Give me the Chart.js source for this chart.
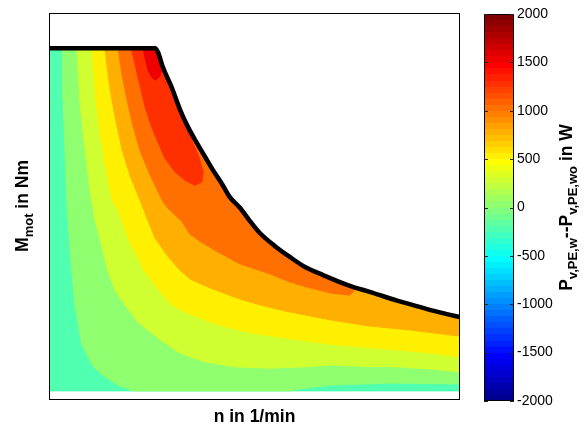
<!DOCTYPE html>
<html>
<head>
<meta charset="utf-8">
<title>Loss difference map</title>
<script src="https://cdn.jsdelivr.net/npm/chart.js@4.4.0/dist/chart.umd.min.js"></script>
<style>
    html, body { margin: 0; padding: 0; background: #fff; }
    #wrap { position: relative; width: 587px; height: 429px; }
    #map-chart { position: absolute; left: 0; top: 0; }
    #cbar-chart { position: absolute; left: 470px; top: 0; }
</style>
</head>
<body>
<div id="wrap">
    <canvas id="map-chart" width="587" height="429"></canvas>
    <canvas id="cbar-chart" width="117" height="429"></canvas>
</div>
<script>
// Operating range: n and M in % of the axis range (axes carry no tick labels)
const limitN = [0, 25.8, 26.5, 27.7, 29.9, 31.9, 33.8, 36.0, 38.0, 39.9, 42.1, 44.0, 46.5, 48.9, 51.3, 55.0, 58.6, 62.3, 66.7, 72.7, 78.8, 84.9, 91.0, 95.6, 100];
const limitM = [90.9, 90.9, 89.9, 86.0, 80.6, 74.9, 70.5, 66.3, 62.7, 59.3, 55.7, 52.3, 49.5, 46.1, 43.0, 39.6, 36.8, 34.2, 32.1, 29.5, 27.5, 25.4, 23.6, 22.3, 21.2];
const mMin = 2.1;

// Contour levels in W (lowest band covers the whole map)
const levels = [-250, 0, 250, 500, 750, 1000, 1250, 1500];

const baseN = [0, 100];
const baseM = [mMin, mMin];
const iso0N = [3.2, 3.4, 3.9, 4.4, 5.1, 6.3, 8.0, 10.5, 12.9, 16.8, 20.4, 58.6, 61.1, 68.4, 83.0, 100];
const iso0M = [90.9, 77.5, 64.5, 50.3, 38.6, 24.4, 14.0, 8.8, 6.2, 3.6, 2.1, 2.1, 2.6, 3.6, 4.1, 3.9];
const iso250N = [6.8, 7.5, 8.5, 10.0, 11.2, 12.4, 14.4, 16.3, 18.5, 21.7, 26.5, 31.4, 34.3, 38.0, 45.3, 53.3, 61.6, 68.4, 75.7, 85.4, 92.7, 100];
const iso250M = [90.9, 77.5, 67.1, 54.1, 46.4, 41.7, 32.9, 27.7, 24.4, 19.9, 15.8, 12.2, 10.9, 9.6, 8.3, 8.0, 8.3, 8.8, 8.5, 8.3, 7.8, 7.0];
const iso500N = [10.5, 11.4, 12.4, 13.9, 15.3, 16.8, 19.2, 23.4, 26.3, 29.9, 33.1, 36.7, 41.1, 49.4, 57.4, 68.4, 75.7, 85.4, 92.7, 100];
const iso500M = [90.9, 77.5, 68.9, 59.3, 51.6, 49.0, 41.7, 32.9, 28.8, 24.4, 22.5, 21.0, 19.2, 17.1, 15.8, 14.2, 13.5, 12.7, 11.9, 10.9];
const iso750N = [13.6, 14.4, 15.3, 16.5, 17.8, 19.7, 22.6, 25.8, 28.7, 31.4, 34.3, 38.0, 41.1, 46.5, 51.3, 57.4, 68.4, 78.1, 87.8, 100];
const iso750M = [90.9, 83.9, 77.5, 71.0, 64.5, 58.0, 50.3, 41.7, 37.3, 33.9, 31.1, 29.3, 28.0, 25.9, 24.4, 22.8, 20.5, 18.9, 17.9, 16.3];
const iso1000N = [16.8, 17.8, 19.0, 20.4, 22.1, 24.6, 27.5, 28.7, 32.4, 34.3, 36.7, 41.1, 46.5, 53.8, 58.6, 63.5, 68.4, 73.2, 74.7];
const iso1000M = [90.9, 83.9, 77.5, 71.0, 64.5, 58.0, 51.6, 49.7, 45.9, 42.7, 40.9, 38.1, 35.0, 32.4, 30.3, 28.8, 27.5, 26.9, 28.5];
const iso1250N = [20.0, 20.7, 21.4, 22.4, 23.4, 24.8, 26.3, 28.2, 30.7, 33.3, 35.5, 37.2, 37.5, 36.4, 35.0, 33.9];
const iso1250M = [90.9, 87.8, 84.5, 80.1, 75.6, 71.0, 67.1, 62.4, 58.8, 56.5, 55.4, 56.2, 58.8, 63.0, 66.3, 69.8];
const iso1500N = [22.9, 23.4, 24.1, 25.1, 26.0, 27.0, 27.5];
const iso1500M = [90.9, 88.3, 85.2, 83.2, 82.6, 83.7, 85.8];

// Colour bar
const cbarMin = -2000;
const cbarMax = 2000;
const cbarTicks = [-2000, -1500, -1000, -500, 0, 500, 1000, 1500, 2000];

const FONT = '"Liberation Sans", Arial, Helvetica, sans-serif';
const TITLE_SIZE = 17.5;
const SUB_SIZE = 13;
Chart.defaults.font.family = FONT;
Chart.defaults.color = '#000';

// MATLAB jet(64), row k = 1..64
function jetRow(k) {
    let r = 0, g = 0, b = 0;
    if (k >= 25 && k <= 40) r = (k - 24) / 16;
    else if (k > 40 && k <= 55) r = 1;
    else if (k > 55) r = (72 - k) / 16;
    if (k >= 9 && k <= 24) g = (k - 8) / 16;
    else if (k > 24 && k <= 39) g = 1;
    else if (k > 39 && k <= 55) g = (56 - k) / 16;
    if (k <= 8) b = (k + 8) / 16;
    else if (k <= 24) b = 1;
    else if (k <= 39) b = (40 - k) / 16;
    return `rgb(${Math.round(r * 255)}, ${Math.round(g * 255)}, ${Math.round(b * 255)})`;
}

function levelColor(v) {
    const k = Math.min(64, Math.floor((v - cbarMin) / (cbarMax - cbarMin) * 64) + 1);
    return jetRow(k);
}

// Closed region above an iso line: the line itself, then back along the torque limit
function regionPoints(isoN, isoM) {
    const pts = isoN.map((n, i) => ({ x: n, y: isoM[i] }));
    const first = isoN[0];
    const last = isoN[isoN.length - 1];
    for (let i = limitN.length - 1; i >= 0; i--) {
        if (limitN[i] >= first && limitN[i] <= last) {
            pts.push({ x: limitN[i], y: limitM[i] });
        }
    }
    return pts;
}

const isoLines = [
    [baseN, baseM], [iso0N, iso0M], [iso250N, iso250M], [iso500N, iso500M],
    [iso750N, iso750M], [iso1000N, iso1000M], [iso1250N, iso1250M], [iso1500N, iso1500M]
];

const datasets = levels.map((lvl, i) => ({
    label: `${lvl} W`,
    data: regionPoints(isoLines[i][0], isoLines[i][1]),
    showLine: true,
    fill: 'shape',
    backgroundColor: levelColor(lvl),
    borderColor: levelColor(lvl),
    borderWidth: 1,
    pointRadius: 0,
    tension: 0,
    order: 20 - i
}));

datasets.push({
    label: 'torque limit',
    data: limitN.map((n, i) => ({ x: n, y: limitM[i] })),
    showLine: true,
    fill: false,
    borderColor: '#000',
    borderWidth: 4.5,
    borderJoinStyle: 'round',
    cubicInterpolationMode: 'monotone',
    pointRadius: 0,
    order: 0
});

// Text with subscripts, optionally turned to read bottom-to-top
function drawRichText(ctx, parts, cx, cy, rotate) {
    const mainFont = `bold ${TITLE_SIZE}px ${FONT}`;
    const subFont = `bold ${SUB_SIZE}px ${FONT}`;
    ctx.save();
    ctx.translate(cx, cy);
    if (rotate) ctx.rotate(-Math.PI / 2);
    ctx.fillStyle = '#000';
    ctx.textAlign = 'left';
    ctx.textBaseline = 'alphabetic';
    let total = 0;
    parts.forEach(p => {
        ctx.font = p.sub ? subFont : mainFont;
        p.w = ctx.measureText(p.t).width;
        total += p.w;
    });
    let x = -total / 2;
    parts.forEach(p => {
        ctx.font = p.sub ? subFont : mainFont;
        ctx.fillText(p.t, x, p.sub ? 5 : 0);
        x += p.w;
    });
    ctx.restore();
}

const mapFrame = {
    id: 'mapFrame',
    afterDraw(chart) {
        const { ctx, chartArea: a } = chart;
        ctx.save();
        ctx.strokeStyle = '#000';
        ctx.lineWidth = 1;
        ctx.strokeRect(Math.round(a.left) + 0.5, Math.round(a.top) + 0.5,
            Math.round(a.right - a.left) - 1, Math.round(a.bottom - a.top));
        ctx.restore();
        drawRichText(ctx, [{ t: 'n in 1/min' }], (a.left + a.right) / 2, a.bottom + 23, false);
        drawRichText(ctx, [{ t: 'M' }, { t: 'mot', sub: true }, { t: ' in Nm' }], 28, 206, true);
    }
};

new Chart(document.getElementById('map-chart'), {
    type: 'scatter',
    data: { datasets },
    options: {
        responsive: false,
        animation: false,
        layout: { padding: { left: 49, right: 127, top: 13, bottom: 30 } },
        scales: {
            x: { type: 'linear', min: 0, max: 100, display: false },
            y: { type: 'linear', min: 0, max: 100, display: false }
        },
        plugins: {
            legend: { display: false },
            tooltip: { enabled: false }
        }
    },
    plugins: [mapFrame]
});

// Colour bar: one floating bar from cbarMin to cbarMax painted with jet(64)
let cbarGradient = null;
function cbarFill(context) {
    const chart = context.chart;
    const y = chart.scales.y;
    if (!chart.chartArea || !y) return null;
    if (cbarGradient) return cbarGradient;
    const g = chart.ctx.createLinearGradient(0, y.getPixelForValue(cbarMin), 0, y.getPixelForValue(cbarMax));
    for (let k = 1; k <= 64; k++) {
        g.addColorStop((k - 1) / 64, jetRow(k));
        g.addColorStop(k / 64, jetRow(k));
    }
    cbarGradient = g;
    return g;
}

const cbarFrame = {
    id: 'cbarFrame',
    afterDraw(chart) {
        const { ctx, chartArea: a } = chart;
        const y = chart.scales.y;
        ctx.save();
        ctx.strokeStyle = '#000';
        ctx.lineWidth = 1;
        ctx.strokeRect(Math.round(a.left) + 0.5, Math.round(a.top) + 0.5,
            Math.round(a.right - a.left) - 1, Math.round(a.bottom - a.top) - 1);
        ctx.strokeStyle = '#222';
        cbarTicks.forEach(v => {
            const py = Math.round(y.getPixelForValue(v)) + 0.5;
            ctx.beginPath();
            ctx.moveTo(a.left, py);
            ctx.lineTo(a.left + 4, py);
            ctx.moveTo(a.right - 4, py);
            ctx.lineTo(a.right, py);
            ctx.stroke();
        });
        ctx.restore();
        drawRichText(ctx, [
            { t: 'P' }, { t: 'v,PE,w', sub: true }, { t: '--P' }, { t: 'v,PE,wo', sub: true }, { t: ' in W' }
        ], 102, (a.top + a.bottom) / 2, true);
    }
};

new Chart(document.getElementById('cbar-chart'), {
    type: 'bar',
    data: {
        labels: ['P'],
        datasets: [{
            data: [[cbarMin, cbarMax]],
            backgroundColor: cbarFill,
            borderWidth: 0,
            barPercentage: 1,
            categoryPercentage: 1
        }]
    },
    options: {
        responsive: false,
        animation: false,
        layout: { padding: { left: 14, right: 33, top: 14, bottom: 28 } },
        scales: {
            x: { display: false },
            y: {
                position: 'right',
                min: cbarMin,
                max: cbarMax,
                afterFit: scale => { scale.width = 40; },
                afterBuildTicks: scale => { scale.ticks = cbarTicks.map(v => ({ value: v })); },
                grid: { display: false, drawTicks: false },
                border: { display: false },
                ticks: {
                    padding: 3,
                    font: { size: 14 },
                    color: '#000',
                    callback: v => String(v)
                }
            }
        },
        plugins: {
            legend: { display: false },
            tooltip: { enabled: false }
        }
    },
    plugins: [cbarFrame]
});
</script>
</body>
</html>
